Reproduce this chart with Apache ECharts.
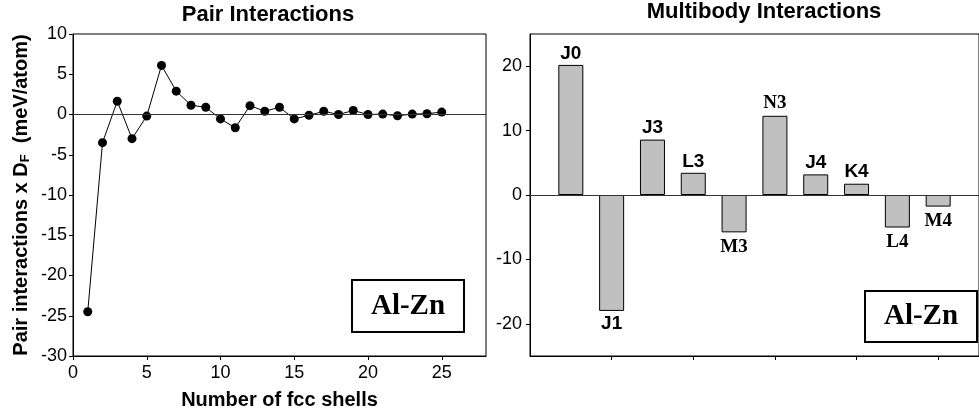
<!DOCTYPE html>
<html>
<head>
<meta charset="utf-8">
<script src="https://cdn.jsdelivr.net/npm/echarts@6/dist/echarts.min.js"></script>
<style>html,body{margin:0;padding:0;background:#fff}#c{width:979px;height:415px}</style>
</head>
<body>
<div id="c"></div>
<script>
// ---- data ----
const shells = [1,2,3,4,5,6,7,8,9,10,11,12,13,14,15,16,17,18,19,20,21,22,23,24,25];
const pairValues = [-24.5,-3.5,1.65,-3.0,-0.2,6.1,2.9,1.15,0.9,-0.55,-1.65,1.1,0.4,0.9,-0.55,-0.1,0.4,0.0,0.5,0.0,0.05,-0.15,0.05,0.1,0.3];
const pairXTicks = [0,5,10,15,20,25];
const multiLabels = ['J0','J1','J3','L3','M3','N3','J4','K4','L4','M4'];
const multiPositions = [1,2,3,4,5,6,7,8,9,10];
const multiValues = [20.2,-18.0,8.6,3.45,-5.8,12.3,3.2,1.75,-5.05,-1.8];
const serifLabels = ['M3','N3','L4','M4'];
const multiYTicks = [-20,-10,0,10,20];
const multiXTicks = [2,4,6,8,10];

const SANS = 'Liberation Sans, Arial, sans-serif';
const SERIF = 'Liberation Serif, Times New Roman, serif';

const chart = echarts.init(document.getElementById('c'), null, {renderer:'canvas'});

const pairData = shells.map((s,i)=>[s,pairValues[i]]);
const multiData = multiPositions.map((p,i)=>{
  const v = multiValues[i];
  const lab = multiLabels[i];
  const serif = serifLabels.indexOf(lab) >= 0;
  return {
    value:[p,v],
    label:{
      show:true,
      position: v >= 0 ? 'top' : 'bottom',
      distance: serif ? (v>=0 ? 3 : 5) : (v>=0 ? 2 : 3),
      formatter: lab,
      fontFamily: serif ? SERIF : SANS,
      fontWeight:'bold',
      fontSize: serif ? 19 : 19,
      color:'#000'
    }
  };
});

const option = {
  animation:false,
  backgroundColor:'#fff',
  title:[
    {text:'Pair Interactions', left:268, top:4, textAlign:'center', padding:0,
     textStyle:{fontFamily:SANS, fontWeight:'bold', fontSize:22, color:'#000'}},
    {text:'Multibody Interactions', left:764, top:1, textAlign:'center', padding:0,
     textStyle:{fontFamily:SANS, fontWeight:'bold', fontSize:22, color:'#000'}}
  ],
  grid:[
    {left:73, right:493, top:34, bottom:59, show:true, borderColor:'#000', borderWidth:1, backgroundColor:'transparent'},
    {left:530, right:-10.5, top:34, bottom:59, show:true, borderColor:'#000', borderWidth:1, backgroundColor:'transparent'}
  ],
  xAxis:[
    {type:'value', gridIndex:0, min:0, max:28,
     name:'Number of fcc shells', nameLocation:'middle', nameGap:34,
     nameTextStyle:{fontFamily:SANS, fontWeight:'bold', fontSize:20, color:'#000'},
     axisLine:{show:true, onZero:false, lineStyle:{color:'#000', width:1}},
     axisTick:{show:true, length:4, inside:false, customValues:pairXTicks, lineStyle:{color:'#000'}},
     axisLabel:{fontFamily:SANS, fontSize:18, color:'#000', margin:8, customValues:pairXTicks},
     splitLine:{show:false}},
    {type:'value', gridIndex:1, min:0, max:11,
     axisLine:{show:true, onZero:false, lineStyle:{color:'#000', width:1}},
     axisTick:{show:true, length:4, inside:false, customValues:multiXTicks, lineStyle:{color:'#000'}},
     axisLabel:{show:false},
     splitLine:{show:false}}
  ],
  yAxis:[
    {type:'value', gridIndex:0, min:-30, max:10, interval:5,
     name:'Pair interactions x D{sub|F}  (meV/atom)', nameLocation:'middle', nameGap:41,
     nameTextStyle:{fontFamily:SANS, fontWeight:'bold', fontSize:20, color:'#000',
       rich:{sub:{fontFamily:SANS, fontWeight:'bold', fontSize:13, color:'#000', padding:[8,0,0,0]}}},
     axisLine:{show:true, onZero:false, lineStyle:{color:'#000', width:1}},
     axisTick:{show:true, length:4, inside:false, lineStyle:{color:'#000'}},
     axisLabel:{fontFamily:SANS, fontSize:18, color:'#000', margin:6},
     splitLine:{show:false}},
    {type:'value', gridIndex:1, min:-25, max:25,
     axisLine:{show:true, onZero:false, lineStyle:{color:'#000', width:1}},
     axisTick:{show:true, length:4, inside:false, customValues:multiYTicks, lineStyle:{color:'#000'}},
     axisLabel:{fontFamily:SANS, fontSize:18, color:'#000', margin:8, customValues:multiYTicks},
     splitLine:{show:false}}
  ],
  series:[
    {type:'line', xAxisIndex:0, yAxisIndex:0, data:pairData,
     symbol:'circle', symbolSize:9,
     itemStyle:{color:'#000'}, lineStyle:{color:'#000', width:1},
     markLine:{silent:true, symbol:'none', label:{show:false},
       lineStyle:{color:'#333', width:1, type:'solid'}, data:[{yAxis:0}]},
     z:3},
    {type:'bar', xAxisIndex:1, yAxisIndex:1, data:multiData, barWidth:25,
     itemStyle:{color:'#c0c0c0', borderColor:'#000', borderWidth:1},
     markLine:{silent:true, symbol:'none', label:{show:false},
       lineStyle:{color:'#333', width:1, type:'solid'}, data:[{yAxis:0}]}}
  ],
  graphic:[
    {type:'group', left:351, top:279, children:[
      {type:'rect', shape:{x:0,y:0,width:112,height:52}, style:{fill:'#fff', stroke:'#000', lineWidth:2}},
      {type:'text', x:56, y:27, style:{text:'Al-Zn', font:'bold 29px '+SERIF, fill:'#000', textAlign:'center', textVerticalAlign:'middle'}}
    ]},
    {type:'group', left:864, top:290, children:[
      {type:'rect', shape:{x:0,y:0,width:112,height:51}, style:{fill:'#fff', stroke:'#000', lineWidth:2}},
      {type:'text', x:56, y:26, style:{text:'Al-Zn', font:'bold 29px '+SERIF, fill:'#000', textAlign:'center', textVerticalAlign:'middle'}}
    ]}
  ]
};
chart.setOption(option);
</script>
</body>
</html>
